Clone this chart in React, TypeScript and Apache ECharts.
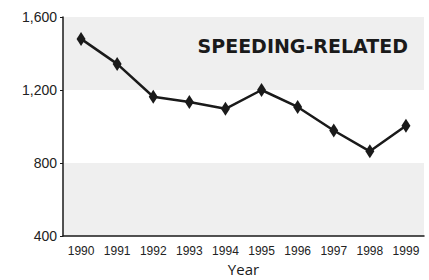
import React, { useEffect, useRef } from "react";
import * as echarts from "echarts";

const years = ["1990", "1991", "1992", "1993", "1994", "1995", "1996", "1997", "1998", "1999"];
const deaths = [1480, 1343, 1163, 1134, 1097, 1200, 1107, 978, 864, 1004];
const yTicks = [400, 800, 1200, 1600];
const title = "SPEEDING-RELATED";
const xName = "Year";

export default function App() {
  const ref = useRef<HTMLDivElement>(null);
  useEffect(() => {
    const chart = echarts.init(ref.current!, null, { renderer: "svg" });
    chart.setOption({
      animation: false,
      backgroundColor: "#ffffff",
      grid: { left: 63, right: 5, top: 17, bottom: 44, outerBoundsMode: "none", containLabel: false },
      title: {
        text: title,
        right: 16,
        top: 31,
        textStyle: { fontFamily: "DejaVu Sans", fontWeight: "bold", fontSize: 19, color: "#1a1a1a" },
      },
      xAxis: {
        type: "category",
        data: years,
        boundaryGap: true,
        name: xName,
        nameLocation: "middle",
        nameGap: 23,
        nameTextStyle: { fontFamily: "Open Sans", fontSize: 15, color: "#1a1a1a" },
        axisLine: { lineStyle: { color: "#1a1a1a", width: 1.5 } },
        axisTick: { inside: true, length: 4, lineStyle: { color: "#1a1a1a" } },
        axisLabel: { fontFamily: "Liberation Sans", fontSize: 12, color: "#222", margin: 9 },
      },
      yAxis: {
        type: "value",
        min: yTicks[0],
        max: yTicks[yTicks.length - 1],
        interval: 400,
        axisLine: { show: true, lineStyle: { color: "#1a1a1a", width: 1.5 } },
        axisTick: { show: true, length: 3, lineStyle: { color: "#1a1a1a" } },
        axisLabel: {
          fontFamily: "Liberation Sans",
          fontSize: 14,
          color: "#222",
          margin: 6,
          formatter: (v: number) => v.toLocaleString("en-US"),
        },
        splitLine: { show: false },
        splitArea: { show: true, areaStyle: { color: ["#efefef", "#ffffff"] } },
      },
      series: [
        {
          type: "line",
          data: deaths,
          symbol: "diamond",
          symbolSize: [9, 14],
          itemStyle: { color: "#1a1a1a" },
          lineStyle: { color: "#1a1a1a", width: 2.5 },
        },
      ],
    });
    return () => chart.dispose();
  }, []);
  return <div ref={ref} style={{ width: 429, height: 280, position: "absolute", left: 0, top: 0 }} />;
}
